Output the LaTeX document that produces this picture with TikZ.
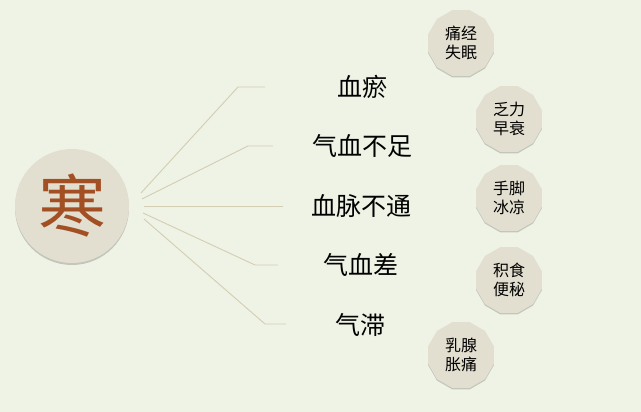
\documentclass[tikz,border=0pt]{standalone}
\usepackage{fontspec}
\setmainfont{Noto Sans CJK SC}
\usepackage{xcolor}
\usetikzlibrary{shapes.geometric, shadows}

\definecolor{paper}{HTML}{EFF3E5}
\definecolor{disc}{HTML}{E3DFD0}
\definecolor{hanbrown}{HTML}{A34F24}
\definecolor{twig}{HTML}{D3CDB2}

\begin{document}
\begin{tikzpicture}[x=1pt, y=1pt,
    hub/.style={circle, fill=disc, minimum size=114pt, inner sep=0pt, text=hanbrown, font=\fontsize{68}{68}\selectfont,
        drop shadow={shadow xshift=0pt, shadow yshift=-2pt, opacity=.18, fill=black}},
    cause/.style={inner sep=0pt, font=\fontsize{25}{25}\selectfont},
    symptom/.style={regular polygon, regular polygon sides=12, minimum size=68pt, inner sep=0pt, fill=disc, align=center, font=\fontsize{16}{19}\selectfont,
        drop shadow={shadow xshift=0pt, shadow yshift=-1.5pt, opacity=.18, fill=black}},
    link/.style={draw=twig, line width=0.9pt}]

    % background and frame
    \fill[paper] (0,0) rectangle (641,412);
    \useasboundingbox (0,0) rectangle (641,412);

    % centre
    \node[hub] (cold) at (72,206) {寒};

    % causes
    \node[cause] (yu) at (362,325) {血瘀};
    \node[cause] (qixu) at (362,266) {气血不足};
    \node[cause] (maibt) at (361,206) {血脉不通};
    \node[cause] (qicha) at (361,147) {气血差};
    \node[cause] (zhi) at (360,87) {气滞};

    % symptoms
    \node[symptom] (tong) at (461,369) {痛经\\失眠};
    \node[symptom] (fa) at (509,293) {乏力\\早衰};
    \node[symptom] (leng) at (509,214) {手脚\\冰凉};
    \node[symptom] (bian) at (509,132) {积食\\便秘};
    \node[symptom] (ru) at (461,57) {乳腺\\胀痛};

    % branch ends
    \coordinate (s1) at (141,219);
    \coordinate (s2) at (142,213);
    \coordinate (s3) at (144,206);
    \coordinate (s4) at (143,199);
    \coordinate (s5) at (144,193);
    \coordinate (e1) at (265,325);
    \coordinate (e2) at (273,266);
    \coordinate (e3) at (283,206);
    \coordinate (e4) at (278,147);
    \coordinate (e5) at (286,88);

    \draw[link] (s1) -- (238,325) -- (e1);
    \draw[link] (s2) -- (248,266) -- (e2);
    \draw[link] (s3) -- (e3);
    \draw[link] (s4) -- (255,147) -- (e4);
    \draw[link] (s5) -- (265,88) -- (e5);
\end{tikzpicture}
\end{document}
